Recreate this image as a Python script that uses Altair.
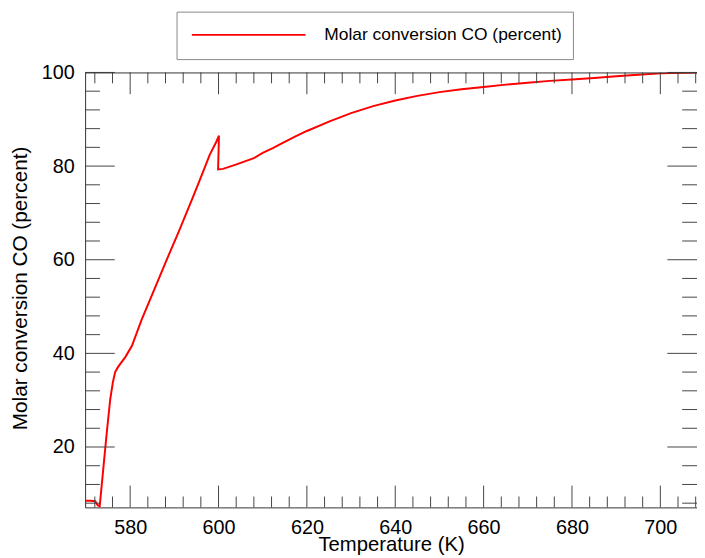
import altair as alt
import pandas as pd

# ---- data ----
temperature = [570.0, 571.0, 572.1, 572.6, 573.1, 574.0, 574.8, 575.5, 576.1, 576.6,
               577.2, 577.8, 578.9, 580.4, 582.6, 585.0, 588.0, 591.0, 594.0, 596.0,
               598.0, 599.5, 600.1, 599.9, 601.0, 603.9, 608.0, 610.0, 612.4, 614.0,
               617.3, 620.0, 625.0, 630.0, 635.0, 640.0, 645.0, 650.0, 655.0, 660.0,
               665.0, 670.0, 675.0, 680.0, 685.0, 690.0, 695.0, 700.0, 705.0, 708.3]
conversion = [8.5, 8.5, 8.4, 7.6, 7.3, 16.2, 24.0, 30.3, 33.9, 36.0,
              37.0, 37.8, 39.2, 41.6, 47.2, 52.6, 59.4, 66.0, 72.9, 77.6,
              82.4, 85.2, 86.5, 79.3, 79.4, 80.3, 81.7, 82.8, 83.9, 84.7,
              86.3, 87.5, 89.5, 91.3, 92.8, 94.0, 95.0, 95.8, 96.4, 96.9,
              97.4, 97.8, 98.2, 98.5, 98.8, 99.2, 99.5, 99.8, 99.95, 100.0]

x_major_ticks = [580, 600, 620, 640, 660, 680, 700]
x_minor_ticks = [572, 576, 584, 588, 592, 596, 604, 608, 612, 616, 624, 628, 632, 636,
                 644, 648, 652, 656, 664, 668, 672, 676, 684, 688, 692, 696, 704, 708]
y_major_ticks = [20, 40, 60, 80, 100]
y_minor_ticks = [8, 12, 16, 24, 28, 32, 36, 44, 48, 52, 56, 64, 68, 72, 76, 84, 88, 92, 96]

x_title = "Temperature (K)"
y_title = "Molar conversion CO (percent)"
legend_label = ["Molar conversion CO (percent)"]

# ---- layout ----
W, H = 619, 440
AX = "#333333"
TK = "#444444"
FONT = "Liberation Sans"

df = pd.DataFrame({"T": temperature, "C": conversion, "i": range(len(temperature))})

xs = alt.Scale(domain=[569.8, 708.3], nice=False, zero=False)
ys = alt.Scale(domain=[7.1, 100], nice=False, zero=False)

x_axis = alt.Axis(values=x_major_ticks, title=x_title, ticks=False, tickSize=0,
                  grid=False, labelPadding=10, labelFontSize=20, titleFontSize=20.5,
                  titleFontWeight="normal", domainColor=AX, titleY=44,
                  titleBaseline="alphabetic", labelFlush=False, format="d")
y_axis = alt.Axis(values=y_major_ticks, title=y_title, ticks=False, tickSize=0,
                  grid=False, labelPadding=11, labelFontSize=20, titleFontSize=21,
                  titleFontWeight="normal", domainColor=AX, titleX=-59, titleY=218,
                  titleBaseline="alphabetic", titleAlign="center", labelFlush=False,
                  format="d")

line = alt.Chart(df).mark_line(color="#ff0000", strokeWidth=2, clip=True).encode(
    x=alt.X("T:Q", scale=xs, axis=x_axis),
    y=alt.Y("C:Q", scale=ys, axis=y_axis),
    order="i:Q",
)

def xticks(vals, y0, y1):
    return alt.Chart(pd.DataFrame({"T": vals})).mark_rule(color=TK, strokeWidth=1).encode(
        x=alt.X("T:Q", scale=xs, axis=x_axis), y=alt.value(y0), y2=alt.value(y1))

def yticks(vals, x0, x1):
    return alt.Chart(pd.DataFrame({"C": vals})).mark_rule(color=TK, strokeWidth=1).encode(
        y=alt.Y("C:Q", scale=ys, axis=y_axis), x=alt.value(x0), x2=alt.value(x1))

ticks = [
    xticks(x_major_ticks, H, H - 22), xticks(x_minor_ticks, H, H - 11),
    xticks(x_major_ticks, 0, 22), xticks(x_minor_ticks, 0, 11),
    yticks(y_major_ticks, 0, 30), yticks(y_minor_ticks, 0, 15),
    yticks(y_major_ticks, W, W - 30), yticks(y_minor_ticks, W, W - 15),
]

top_border = alt.Chart(pd.DataFrame({"a": [0]})).mark_rule(color=AX, strokeWidth=1).encode(
    x=alt.value(0), x2=alt.value(W), y=alt.value(0.5))

leg_df = pd.DataFrame({"label": legend_label})
leg_box = alt.Chart(leg_df).mark_rect(fill="white", stroke="#888888", strokeWidth=1).encode(
    x=alt.value(93), x2=alt.value(494), y=alt.value(-61), y2=alt.value(-13))
leg_line = alt.Chart(leg_df).mark_rule(color="#ff0000", strokeWidth=2).encode(
    x=alt.value(108), x2=alt.value(223), y=alt.value(-38))
leg_text = alt.Chart(leg_df).mark_text(align="left", baseline="middle", fontSize=17.6,
                                       font=FONT, color="black").encode(
    x=alt.value(242), y=alt.value(-38), text="label:N")

chart = alt.layer(line, *ticks, top_border, leg_box, leg_line, leg_text).properties(
    width=W, height=H,
    padding={"left": 78, "top": 62, "right": 0, "bottom": 48},
    autosize=alt.AutoSizeParams(type="none"),
).configure_view(stroke=None).configure_axis(
    labelFont=FONT, titleFont=FONT, labelColor="black", titleColor="black"
)

chart.save("out.html", embed_options={"renderer": "svg", "actions": False})
